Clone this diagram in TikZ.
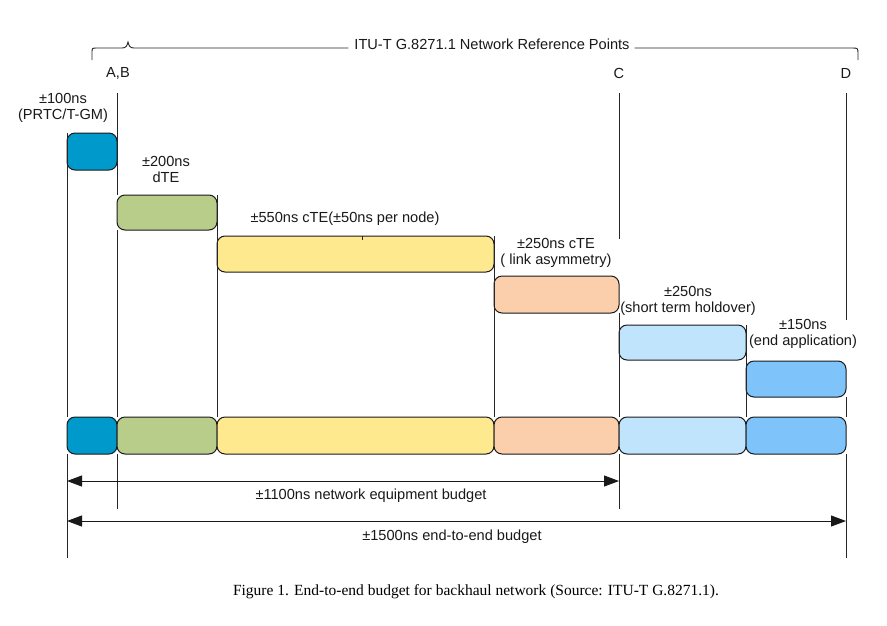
\documentclass[tikz,border=0pt]{standalone}
\usepackage{fontspec}
\setmainfont{Liberation Sans}
\newfontfamily\capfont{Liberation Serif}
\usetikzlibrary{arrows.meta}
\definecolor{cA}{HTML}{0099CC}
\definecolor{cB}{HTML}{B9CD8B}
\definecolor{cC}{HTML}{FFE98F}
\definecolor{cD}{HTML}{FBCEAC}
\definecolor{cE}{HTML}{BFE4FB}
\definecolor{cF}{HTML}{7EC4FA}
\definecolor{edge}{HTML}{1A1A1A}
\tikzset{
  box/.style={draw=edge, line width=1pt, rounded corners=8pt, inner sep=0pt, outer sep=0pt, anchor=north west},
  lbl/.style={font=\fontsize{14.6}{16}\selectfont, inner sep=0pt, text=black!90},
  vline/.style={draw=black!85, line width=0.9pt},
  dim/.style={draw=black!90, line width=1pt, {Triangle[length=15pt,width=11pt]}-{Triangle[length=15pt,width=11pt]}},
}
\begin{document}
\begin{tikzpicture}[x=1pt,y=-1pt]
\useasboundingbox (0,0) rectangle (887,625);
\fill[white] (0,0) rectangle (887,625);

% coordinates for free ends
\coordinate (abT) at (117,93);
\coordinate (abB) at (117,509);
\coordinate (cT) at (619,93);
\coordinate (cM) at (619,239);
\coordinate (cB) at (619,509);
\coordinate (dT) at (846,93);
\coordinate (dM) at (846,320);
\coordinate (dB) at (846,558);
\coordinate (lB) at (67,558);
\coordinate (a1L) at (67,481);
\coordinate (a1R) at (619,481);
\coordinate (a2L) at (67,521);
\coordinate (a2R) at (846,521);

% title and brace
\node[lbl] (title) at (492,44) {ITU-T G.8271.1 Network Reference Points};
\coordinate (brL) at (92,60);
\coordinate (brR) at (858,60);
\draw[vline] (brL) -- (92,53) .. controls (92,48) .. (97,48) -- (122,48)
  .. controls (126,48) and (127,46) .. (128,42)
  .. controls (129,46) and (130,48) .. (134,48) -- ([xshift=-6pt]title.west |- 0,48);
\draw[vline] ([xshift=5pt]title.east |- 0,48) -- (852,48) .. controls (858,48) .. (858,54) -- (brR);

% reference point labels
\node[lbl] (ab) at (118,73) {A,B};
\node[lbl] (c) at (619,73) {C};
\node[lbl] (d) at (846,73) {D};

% upper staircase boxes
\node[box, fill=cA, minimum width=50pt, minimum height=37pt] (p1) at (67,133) {};
\node[box, fill=cB, minimum width=100pt, minimum height=35pt] (p2) at (117,195) {};
\node[box, fill=cC, minimum width=277pt, minimum height=36pt] (p3) at (217,236) {};
\node[box, fill=cD, minimum width=125pt, minimum height=37pt] (p4) at (494,276) {};
\node[box, fill=cE, minimum width=127pt, minimum height=35pt] (p5) at (619,325) {};
\node[box, fill=cF, minimum width=100pt, minimum height=36pt] (p6) at (746,361) {};

% lower row boxes
\node[box, fill=cA, minimum width=50pt, minimum height=37pt] (q1) at (67,417) {};
\node[box, fill=cB, minimum width=100pt, minimum height=37pt] (q2) at (117,417) {};
\node[box, fill=cC, minimum width=277pt, minimum height=37pt] (q3) at (217,417) {};
\node[box, fill=cD, minimum width=125pt, minimum height=37pt] (q4) at (494,417) {};
\node[box, fill=cE, minimum width=127pt, minimum height=37pt] (q5) at (619,417) {};
\node[box, fill=cF, minimum width=100pt, minimum height=37pt] (q6) at (746,417) {};

% vertical lines
\draw[vline] (p1.north west) -- (q1.north west);
\draw[vline] (q1.south west) -- (lB);
\draw[vline] (abT) -- (p2.north west);
\draw[vline] (p2.south west) -- (q2.north west);
\draw[vline] (q2.south west) -- (abB);
\draw[vline] (p2.north east) -- (q3.north west);
\draw[vline] (p3.north east) -- (q4.north west);
\draw[vline] (cT) -- (cM);
\draw[vline] (p4.south east) -- (q5.north west);
\draw[vline] (q5.south west) -- (cB);
\draw[vline] (p5.north east) -- (q6.north west);
\draw[vline] (dT) -- (dM);
\draw[vline] (p6.south east) -- (q6.north east);
\draw[vline] (q6.south east) -- (dB);
\draw[vline, line width=0.6pt] (p3.north) ++(6.5,0) coordinate (tk) -- ++(0,4);

% box labels
\node[lbl, align=center] (t1) at (63,108) {±100ns\\(PRTC/T-GM)};
\node[lbl, align=center] (t2) at (166,169) {±200ns\\dTE};
\node[lbl] (t3) at (345,219) {±550ns cTE(±50ns per node)};
\node[lbl, align=center] (t4) at (556,253) {±250ns cTE\\( link asymmetry)};
\node[lbl, align=center] (t5) at (688,301) {±250ns\\(short term holdover)};
\node[lbl, align=center] (t6) at (803,334) {±150ns\\(end application)};

% budget arrows
\draw[dim] (a1L) -- (a1R);
\node[lbl] (b1) at (371,496) {±1100ns network equipment budget};
\draw[dim] (a2L) -- (a2R);
\node[lbl] (b2) at (452,537) {±1500ns end-to-end budget};

% caption
\node[font=\capfont\fontsize{15.5}{17}\selectfont, inner sep=0pt] (cap) at (476,592) {Figure 1. End-to-end budget for backhaul network (Source: ITU-T G.8271.1).};
\end{tikzpicture}
\end{document}
